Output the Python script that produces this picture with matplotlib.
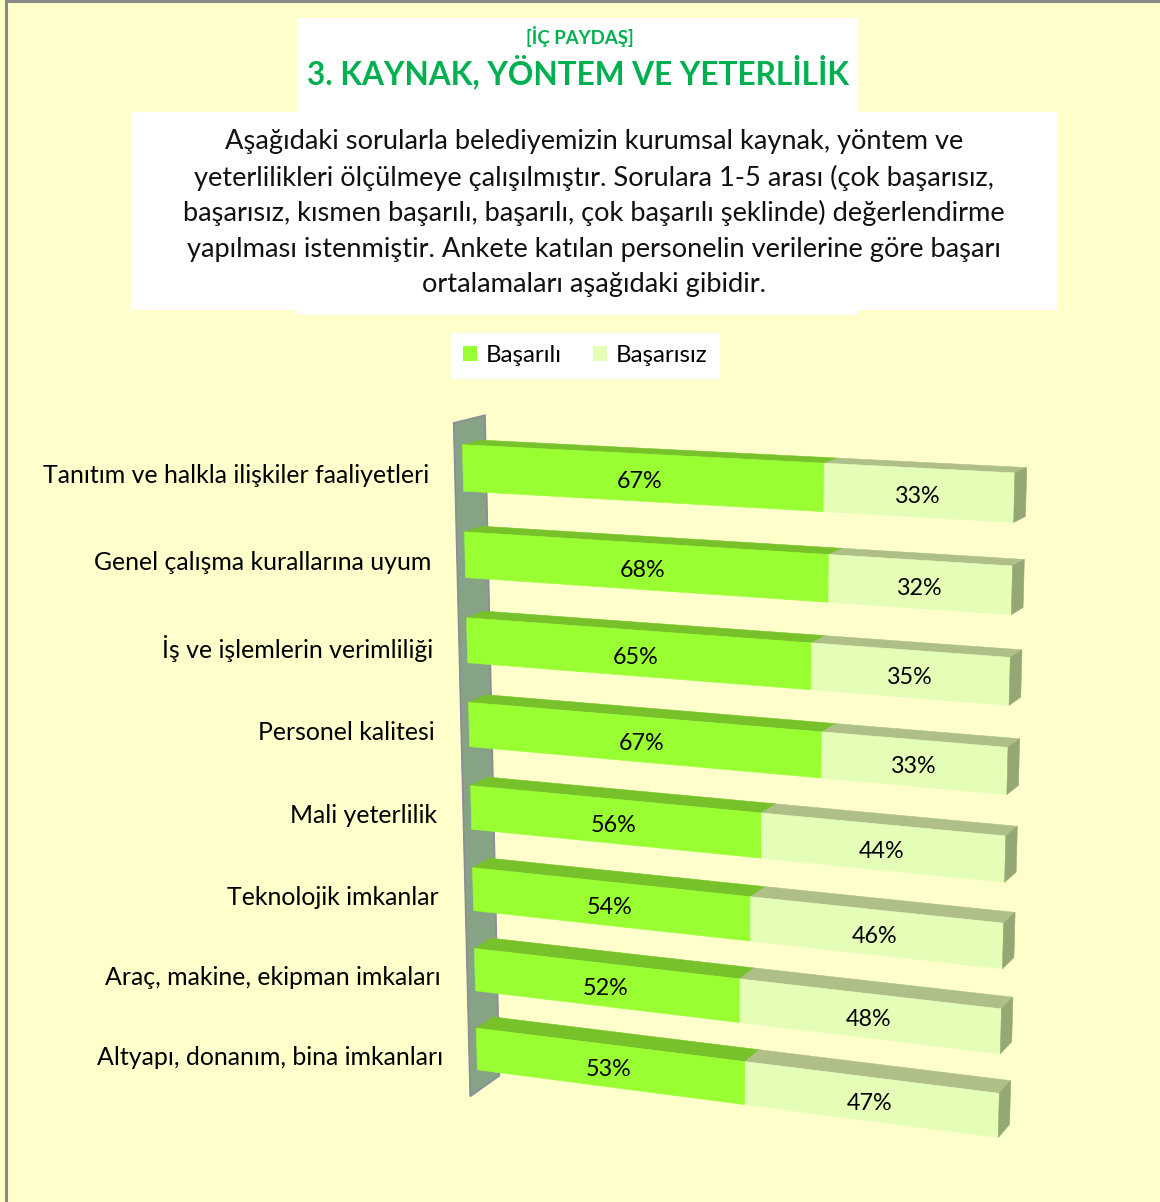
import numpy as np
import matplotlib
matplotlib.use("Agg")
import matplotlib.pyplot as plt
from matplotlib.patches import Polygon, Rectangle, Patch

# --- Data ---
categories = [
    "Tanıtım ve halkla ilişkiler faaliyetleri",
    "Genel çalışma kurallarına uyum",
    "İş ve işlemlerin verimliliği",
    "Personel kalitesi",
    "Mali yeterlilik",
    "Teknolojik imkanlar",
    "Araç, makine, ekipman imkaları",
    "Altyapı, donanım, bina imkanları",
]
basarili = [67, 68, 65, 67, 56, 54, 52, 53]
basarisiz = [33, 32, 35, 33, 44, 46, 48, 47]
series_names = ["Başarılı", "Başarısız"]

title_small = "[İÇ PAYDAŞ]"
title_big = "3. KAYNAK, YÖNTEM VE YETERLİLİK"
desc_lines = [
    "Aşağıdaki sorularla belediyemizin kurumsal kaynak, yöntem ve",
    "yeterlilikleri ölçülmeye çalışılmıştır. Sorulara 1-5 arası (çok başarısız,",
    "başarısız, kısmen başarılı, başarılı, çok başarılı şeklinde) değerlendirme",
    "yapılması istenmiştir. Ankete katılan personelin verilerine göre başarı",
    "ortalamaları aşağıdaki gibidir.",
]

# --- Style ---
BG = "#FFFFCC"
TITLE_GREEN = "#00B050"
FRONT = ["#99FF33", "#E4FEB8"]
TOP = ["#77C22A", "#AEBF88"]
SIDE = "#95A873"
WALL = "#86A386"
WALL_EDGE = "#8C8C98"
FONT = "Lato"
W = 0.53  # bar thickness (category units)

plt.rcParams["font.family"] = [FONT, "DejaVu Sans"]

# --- 3D perspective camera (fitted to the Excel 3D view) ---
# world: (value fraction, category position, depth) -> pixel
calib = [
    ((0, 0, 0), (462, 446)), ((0.67, 0, 0), (826, 462)), ((1, 0, 0), (1013, 473)),
    ((0, W, 0), (463, 490)), ((0.67, W, 0), (825, 512)), ((1, W, 0), (1013, 522)),
    ((1, 0, 1), (1027, 469)), ((1, W, 1), (1026, 516)), ((0.67, 0, 1), (838, 458)),
    ((0, 7, 0), (477, 1029)), ((0.53, 7, 0), (745, 1063)), ((1, 7, 0), (1000, 1093)),
    ((0, 7 + W, 0), (478, 1070)), ((0.53, 7 + W, 0), (744, 1104)), ((1, 7 + W, 0), (998, 1137)),
    ((1, 7, 1), (1011, 1081)), ((1, 7 + W, 1), (1010, 1125)), ((0.53, 7, 1), (758, 1049)),
    ((0, 7, 1), (493, 1016)),
]


def fit_camera(points):
    world = np.array([p[0] for p in points], float)
    img = np.array([p[1] for p in points], float)
    c = img.mean(0)
    s = img.std()
    img = (img - c) / s
    rows = []
    for (X, Y, Z), (x, y) in zip(world, img):
        rows.append([X, Y, Z, 1, 0, 0, 0, 0, -x * X, -x * Y, -x * Z, -x])
        rows.append([0, 0, 0, 0, X, Y, Z, 1, -y * X, -y * Y, -y * Z, -y])
    _, _, vt = np.linalg.svd(np.array(rows))
    P = vt[-1].reshape(3, 4)
    T = np.array([[s, 0, c[0]], [0, s, c[1]], [0, 0, 1]])
    return T @ P


P = fit_camera(calib)


def project(u, v, z):
    h = P @ np.array([u, v, z, 1.0])
    return h[:2] / h[2]


def face(pts, color, **kw):
    poly = Polygon([project(*p) for p in pts], closed=True, facecolor=color,
                   edgecolor=color, linewidth=0.4, **kw)
    ax.add_patch(poly)


# --- Figure ---
fig = plt.figure(figsize=(11.6, 12.02), dpi=100)
fig.patch.set_facecolor(BG)
ax = fig.add_axes([0, 0, 1, 1])
ax.set_xlim(0, 1160)
ax.set_ylim(1202, 0)
ax.axis("off")

# outer border (left / top)
ax.plot([6, 6], [0, 1202], color="#8A8A8A", lw=2.2)
ax.plot([6, 1160], [1, 1], color="#8A8A8A", lw=2.2)

# title and description boxes
ax.add_patch(Rectangle((297, 18), 561, 297, facecolor="white", edgecolor="none"))
ax.add_patch(Rectangle((131, 112), 926, 198, facecolor="white", edgecolor="none"))
ax.text(580, 37, title_small, ha="center", va="center", color=TITLE_GREEN,
        fontsize=13.4, fontweight="bold")
ax.text(578, 72, title_big, ha="center", va="center", color=TITLE_GREEN,
        fontsize=22.8, fontweight="bold")
for k, line in enumerate(desc_lines):
    ax.text(594, 142 + k * 35.7, line, ha="center", va="center", color="#111111",
            fontsize=19.6)

# --- Wall ---
g, f, b = 0.27, 0.45, 0.3
n = len(categories)
wall = [(0, -g, -f), (0, -g, 1 + b), (0, n - 1 + W + g, 1 + b), (0, n - 1 + W + g, -f)]
face(wall, WALL)
ax.add_patch(Polygon([project(*p) for p in wall], closed=True, fill=False,
                     edgecolor=WALL_EDGE, linewidth=1.2))

# --- Bars ---
for i, cat in enumerate(categories):
    vals = [basarili[i] / 100, basarisiz[i] / 100]
    starts = [0, vals[0]]
    for s_, w_, col in zip(starts, vals, TOP):
        face([(s_, i, 0), (s_ + w_, i, 0), (s_ + w_, i, 1), (s_, i, 1)], col)
    for s_, w_, col in zip(starts, vals, FRONT):
        face([(s_, i, 0), (s_ + w_, i, 0), (s_ + w_, i + W, 0), (s_, i + W, 0)], col)
    end = starts[1] + vals[1]
    face([(end, i, 0), (end, i, 1), (end, i + W, 1), (end, i + W, 0)], SIDE)

    for s_, w_, pct in zip(starts, vals, [basarili[i], basarisiz[i]]):
        x, y = project(s_ + w_ / 2, i + W / 2, 0)
        ax.text(x, y + 4, f"{pct}%", ha="center", va="center", fontsize=16.8,
                color="black")
    lx, ly = project(0, i + W / 2, 0)
    ax.text(lx - 34, ly + 8, cat, ha="right", va="center", fontsize=17.9,
            color="black")

# --- Legend ---
handles = [Patch(facecolor=FRONT[0], edgecolor="none"),
           Patch(facecolor=FRONT[1], edgecolor="none")]
leg = ax.legend(handles, series_names, ncol=2, loc="center",
                bbox_to_anchor=(585, 355.5), bbox_transform=ax.transData,
                frameon=True, fancybox=False, facecolor="white", edgecolor="white",
                framealpha=1, fontsize=17.3, handlelength=0.6, handleheight=0.6,
                handletextpad=0.35, columnspacing=1.3, borderpad=0.5)

fig.savefig("out.png", dpi=100, facecolor=BG)
